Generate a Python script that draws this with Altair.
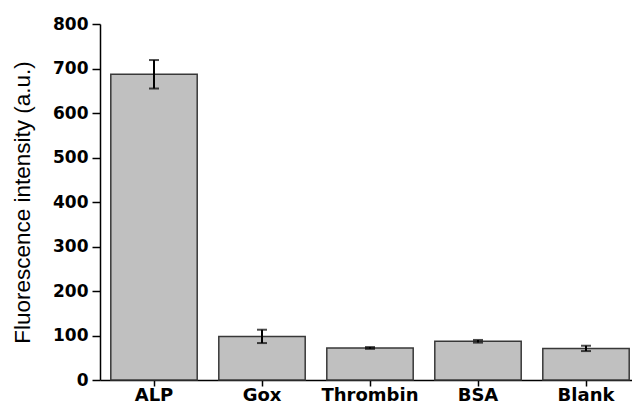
import altair as alt
import pandas as pd

categories = ["ALP", "Gox", "Thrombin", "BSA", "Blank"]
values = [687, 98, 72, 87, 71]
errors = [32, 15, 2, 3, 6]

df = pd.DataFrame({"cat": categories, "val": values, "err": errors})
df["lo"] = df["val"] - df["err"]
df["hi"] = df["val"] + df["err"]

LBL = "DejaVu Sans"
TTL = "Liberation Sans"

x = alt.X("cat:N", sort=categories, title=None,
          scale=alt.Scale(paddingInner=0.2, paddingOuter=0.1, range=[0, 540]),
          axis=alt.Axis(labelAngle=0, labelFont=LBL, labelFontSize=18, labelFontWeight="bold",
                        labelColor="black", labelPadding=0, tickSize=6, tickColor="black",
                        tickWidth=1.5, domainColor="black", domainWidth=1.5, grid=False))
y = alt.Y("val:Q", title="Fluorescence intensity (a.u.)",
          scale=alt.Scale(domain=[0, 800], nice=False),
          axis=alt.Axis(values=[0, 100, 200, 300, 400, 500, 600, 700, 800],
                        labelFont=LBL, labelFontSize=17, labelFontWeight="bold",
                        labelColor="black", labelPadding=4, tickSize=8, tickColor="black",
                        tickWidth=1.5, domainColor="black", domainWidth=1.5, grid=False,
                        titleFont=TTL, titleFontSize=22.5, titleFontWeight="normal",
                        titleColor="black", titlePadding=18))

xs = alt.X("cat:N", sort=categories)

bars = alt.Chart(df).mark_bar(color="#c0c0c0", stroke="#383838", strokeWidth=1.5).encode(x=x, y=y)
rules = alt.Chart(df).mark_rule(color="black", strokeWidth=2).encode(
    x=xs, y="lo:Q", y2="hi:Q")
caps_hi = alt.Chart(df).mark_tick(color="black", thickness=2, size=10, orient="horizontal").encode(
    x=xs, y="hi:Q")
caps_lo = alt.Chart(df).mark_tick(color="black", thickness=2, size=10, orient="horizontal").encode(
    x=xs, y="lo:Q")

chart = alt.layer(bars, rules, caps_hi, caps_lo).properties(
    width=532, height=356,
    background="white",
    autosize=alt.AutoSizeParams(type="none"),
    padding={"left": 92, "top": 16, "right": 0, "bottom": 24},
).configure_view(stroke="transparent", strokeWidth=0).configure_axis(grid=False)

chart.save("out.html", embed_options={"renderer": "svg", "actions": False})
